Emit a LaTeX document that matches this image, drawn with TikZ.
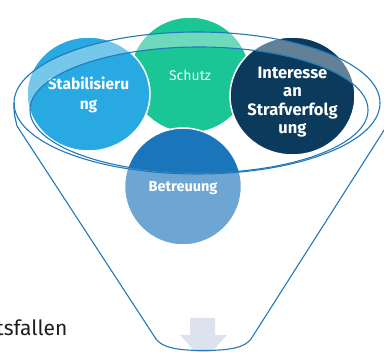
\documentclass[tikz,border=0pt]{standalone}
\usepackage{fontspec}
\setmainfont{Fira Sans}
\usetikzlibrary{shapes.geometric}

\definecolor{stabcol}{RGB}{41,169,225}
\definecolor{schutzcol}{RGB}{26,198,150}
\definecolor{intcol}{RGB}{12,58,92}
\definecolor{betrcol}{RGB}{27,117,187}
\definecolor{rimcol}{RGB}{33,121,186}
\definecolor{arrowcol}{RGB}{220,227,238}
\definecolor{inkcol}{RGB}{30,30,30}

\tikzset{
  bubble/.style={ellipse, draw=white, line width=1.5pt, inner sep=0pt,
    text=white, align=center},
  bubbletext/.style={inner sep=0pt, text=white, align=center},
  rimline/.style={draw=rimcol, line width=1.1pt},
  haze/.style={fill=white, fill opacity=0.36},
}

\begin{document}
\begin{tikzpicture}[x=1pt, y=-1pt]
  \useasboundingbox (0,0) rectangle (384,352);

  % four overlapping bubbles
  \node[bubble, fill=schutzcol, minimum width=120pt, minimum height=116pt,
        font=\fontsize{14}{16}\selectfont, text=white!92!schutzcol]
        (schutz) at (190,75) {Schutz};
  \node[bubble, fill=stabcol, minimum width=123pt, minimum height=114pt]
        (stab) at (88.5,94) {};
  \node[bubbletext, font=\bfseries\fontsize{15.5}{19.5}\selectfont]
        (stabtext) at (88.5,95) {Stabilisieru\\ng};
  \node[bubble, fill=intcol, minimum width=125pt, minimum height=118pt]
        (interesse) at (292.5,96) {};
  \node[bubbletext, font=\bfseries\fontsize{16.5}{18.5}\selectfont]
        (interessetext) at (292.5,102) {Interesse\\an\\Strafverfolg\\ung};
  \node[bubble, fill=betrcol, minimum width=117pt, minimum height=117pt]
        (betreuung) at (183,186.5) {};

  % translucent front of the funnel: rim band and body below the rim
  \fill[haze, even odd rule]
    (197,103) ellipse[x radius=183, y radius=71]
    (199,110) ellipse[x radius=169, y radius=63];
  \fill[haze]
    (14,103) .. controls (14,113) .. (17,126) -- (156,339)
    .. controls (162,347) and (175,350.5) .. (203.5,350.5)
    .. controls (232,350.5) and (245,347) .. (251,339)
    -- (395,113) -- (395,103) -- (380,103)
    arc[start angle=0, end angle=180, x radius=183, y radius=71] -- cycle;

  % label of the lower bubble, kept crisp on top of the haze
  \node[bubbletext, font=\bfseries\fontsize{14.5}{17}\selectfont]
        (betreuungtext) at (183,188) {Betreuung};

  % downward arrow at the spout
  \fill[arrowcol] (190,318) -- (215,318) -- (215,335) -- (227,335)
    -- (203.5,361) -- (180,335) -- (190,335) -- cycle;

  % funnel outline
  \draw[rimline] (197,103) ellipse[x radius=183, y radius=71];
  \draw[rimline] (199,110) ellipse[x radius=169, y radius=63];
  \draw[rimline, line join=round]
    (14,103) .. controls (14,113) .. (17,126) -- (156,339)
    .. controls (162,347) and (175,350.5) .. (203.5,350.5)
    .. controls (232,350.5) and (245,347) .. (251,339)
    -- (395,113);

  % caption text at the lower left
  \node[anchor=base east, inner sep=0pt, text=inkcol,
        font=\fontsize{21}{24}\selectfont] (caption) at (67.5,336) {tsfallen};
\end{tikzpicture}
\end{document}
